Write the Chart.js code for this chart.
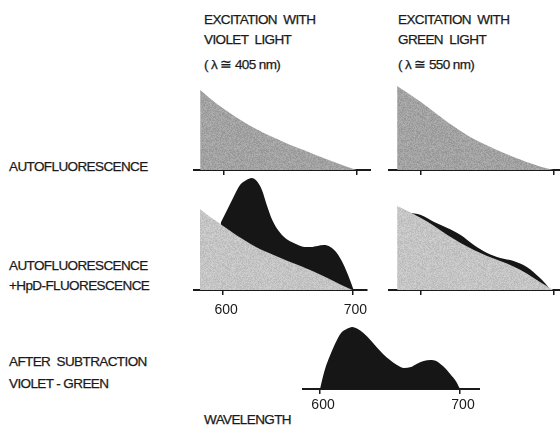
<!DOCTYPE html>
<html>
<head>
<meta charset="utf-8">
<script src="https://cdn.jsdelivr.net/npm/chart.js@4.4.0/dist/chart.umd.min.js"></script>
<style>
  body { margin: 0; background: #fff; }
  #fig { position: relative; width: 560px; height: 426px; overflow: hidden; background: #fff; }
  #fig canvas { position: absolute; }
  .lbl {
    position: absolute;
    font-family: "Liberation Sans", Arial, sans-serif;
    font-size: 13.5px; line-height: 13.5px; letter-spacing: -0.6px;
    color: #1a1a1a; white-space: pre;
    -webkit-text-stroke: 0.25px #1a1a1a;
  }
</style>
</head>
<body>
<div id="fig">
  <div class="lbl" style="left:204px; top:13px">EXCITATION  WITH</div>
  <div class="lbl" style="left:204px; top:33px">VIOLET  LIGHT</div>
  <div class="lbl" style="left:204px; top:58px">( λ ≅ 405 nm)</div>
  <div class="lbl" style="left:398px; top:13px">EXCITATION  WITH</div>
  <div class="lbl" style="left:398px; top:33px">GREEN  LIGHT</div>
  <div class="lbl" style="left:398px; top:58px">( λ ≅ 550 nm)</div>

  <div class="lbl" style="left:9px; top:160px">AUTOFLUORESCENCE</div>
  <div class="lbl" style="left:9px; top:259px">AUTOFLUORESCENCE</div>
  <div class="lbl" style="left:9px; top:279px">+HpD-FLUORESCENCE</div>
  <div class="lbl" style="left:9px; top:355px">AFTER  SUBTRACTION</div>
  <div class="lbl" style="left:9px; top:377px">VIOLET - GREEN</div>
  <div class="lbl" style="left:204px; top:413px">WAVELENGTH</div>

  <canvas id="violetAuto" width="178" height="100" style="left:193px; top:78px"></canvas>
  <canvas id="greenAuto" width="172" height="100" style="left:388px; top:78px"></canvas>
  <canvas id="violetHpd" width="178" height="150" style="left:193px; top:170px"></canvas>
  <canvas id="greenHpd" width="172" height="150" style="left:388px; top:170px"></canvas>
  <canvas id="difference" width="178" height="104" style="left:302px; top:315px"></canvas>
</div>
<script>
// wavelength (nm) and intensity (arb. units)
const tickValues = [600, 700];

const waveAuto = [582, 590, 600, 610, 620, 630, 640, 650, 660, 670, 680, 690, 700];
const autoViolet = [80, 71, 61, 52, 44, 37, 31, 25, 20, 14.5, 9.5, 4.5, 0];
const autoGreen = [84, 77, 68, 58, 48, 39, 31, 24.5, 18.5, 13, 8, 3.5, 0];

// autofluorescence part of the tumour spectra
const baseViolet = [81, 73, 64, 55, 47, 40, 34.5, 29, 24, 18.5, 12.5, 6, 0];
const baseGreen = [84, 79, 72, 64, 55, 47, 40, 34, 29, 23.5, 16.5, 8, 0];

// autofluorescence + HpD
const waveTotalViolet = [598, 603, 608, 613, 618, 622, 626, 630, 634, 638, 643, 648, 653, 658, 663, 668, 673, 678, 683, 688, 693, 697, 701];
const totalViolet = [67, 80, 93, 105, 110, 112, 109, 100, 84, 70, 59, 52, 48, 45, 43, 43, 44, 45, 43, 37, 26, 14, 0];
const waveTotalGreen = [593, 600, 610, 620, 630, 640, 650, 660, 670, 680, 690, 697];
const totalGreen = [77, 75, 68, 62, 55, 45, 37, 32, 29, 23, 12, 2];

// violet minus green
const waveDiff = [600, 602, 604, 607, 611, 615, 619, 623, 627, 631, 636, 641, 645, 650, 655, 660, 665, 669, 674, 679, 683, 686, 690, 693, 697, 700];
const diff = [0, 12, 22, 33, 46, 56, 60, 62, 60, 56, 49, 41, 35, 29, 24, 21, 22, 25, 28, 29, 28, 25, 20, 15, 8, 0];

const BLACK = '#161616';

// stippled grey fill, like the printed halftone
function grain(level, spread) {
  const c = document.createElement('canvas');
  c.width = 61; c.height = 59;
  const g = c.getContext('2d');
  const img = g.createImageData(c.width, c.height);
  for (let y = 0; y < c.height; y++) {
    for (let x = 0; x < c.width; x++) {
      const h = Math.sin(x * 12.9898 + y * 78.233) * 43758.5453;
      const v = Math.round(level + (h - Math.floor(h) - 0.5) * spread);
      const i = (y * c.width + x) * 4;
      img.data[i] = img.data[i + 1] = img.data[i + 2] = v;
      img.data[i + 3] = 255;
    }
  }
  g.putImageData(img, 0, 0);
  return g.createPattern(c, 'repeat');
}
const GREY_DARK = grain(162, 28);
const GREY_LIGHT = grain(196, 26);

function series(xs, ys, color) {
  return {
    data: xs.map((x, i) => ({ x: x, y: ys[i] })),
    backgroundColor: color,
    borderColor: color,
    borderWidth: 0,
    fill: 'origin'
  };
}

function panel(id, xMin, xMax, yMax, axisH, labelPad, datasets) {
  new Chart(document.getElementById(id), {
    type: 'line',
    data: { datasets: datasets },
    options: {
      responsive: false,
      animation: false,
      events: [],
      layout: { padding: 0 },
      plugins: { legend: { display: false }, tooltip: { enabled: false } },
      elements: {
        point: { radius: 0 },
        line: { cubicInterpolationMode: 'monotone' }
      },
      scales: {
        x: {
          type: 'linear',
          min: xMin,
          max: xMax,
          afterBuildTicks: s => { s.ticks = tickValues.map(v => ({ value: v })); },
          afterFit: s => { s.height = axisH; },
          border: { display: true, color: '#1a1a1a', width: 2 },
          grid: { drawOnChartArea: false, drawTicks: true, tickLength: 5, color: '#1a1a1a', lineWidth: 1.5 },
          ticks: {
            display: labelPad !== null,
            padding: labelPad || 0,
            labelOffset: 3,
            color: '#1a1a1a',
            font: { family: 'Liberation Sans', size: 14 }
          }
        },
        y: { display: false, min: 0, max: yMax }
      }
    }
  });
}

panel('violetAuto', 576.6, 710.8, 92, 8, null, [series(waveAuto, autoViolet, GREY_DARK)]);
panel('greenAuto', 575.1, 705.1, 92, 8, null, [series(waveAuto, autoGreen, GREY_DARK)]);
panel('violetHpd', 576.6, 710.8, 120, 30, 7, [
  series(waveAuto, baseViolet, GREY_LIGHT),
  series(waveTotalViolet, totalViolet, BLACK)
]);
panel('greenHpd', 575.1, 705.1, 120, 30, null, [
  series(waveAuto, baseGreen, GREY_LIGHT),
  series(waveTotalGreen, totalGreen, BLACK)
]);
panel('difference', 587.1, 714.3, 74, 30, 3, [series(waveDiff, diff, BLACK)]);
</script>
</body>
</html>
